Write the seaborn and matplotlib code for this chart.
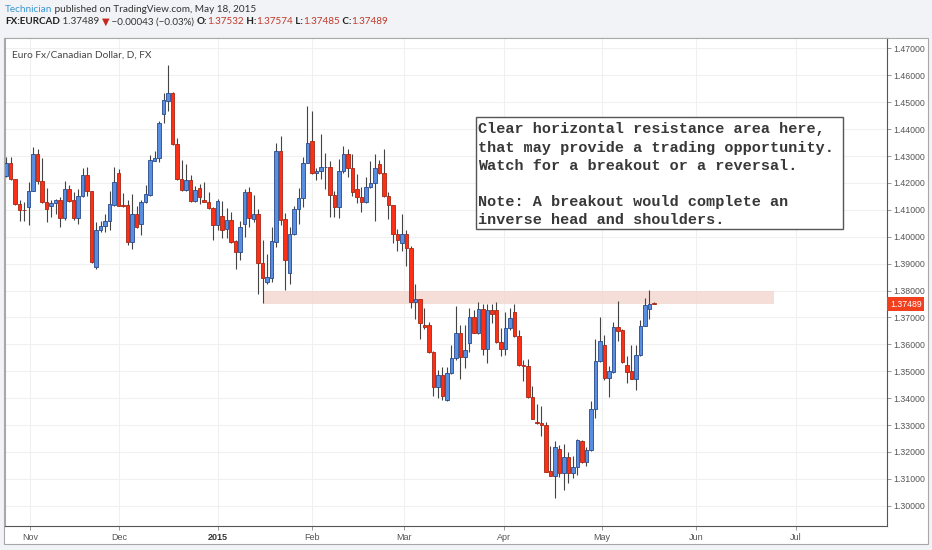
import matplotlib
matplotlib.use('Agg')
import matplotlib.pyplot as plt
import matplotlib.transforms as mtransforms
from matplotlib.patches import Rectangle
import seaborn as sns
import numpy as np

# daily EUR/CAD bars, late Oct 2014 -> May 18 2015
opens = [
    1.4227, 1.4276, 1.4215, 1.4122, 1.4100, 1.4110, 1.4172, 1.4307, 1.4208, 1.4131,
    1.4116, 1.4125, 1.4135, 1.4071, 1.4178, 1.4135, 1.4071, 1.4151, 1.4229, 1.4172,
    1.3886, 1.4026, 1.4039, 1.4058, 1.4120, 1.4239, 1.4120, 1.4120, 1.3981, 1.4085,
    1.4048, 1.4128, 1.4155, 1.4282, 1.4292, 1.4455, 1.4504, 1.4535, 1.4344, 1.4215,
    1.4174, 1.4211, 1.4134, 1.4181, 1.4138, 1.4131, 1.4107, 1.4045, 1.4079, 1.4030,
    1.4063, 1.3983, 1.3943, 1.4048, 1.4165, 1.4067, 1.4083, 1.3904, 1.3833, 1.3845,
    1.3980, 1.4319, 1.4067, 1.3866, 1.4011, 1.4104, 1.4144, 1.4276, 1.4356, 1.4239,
    1.4243, 1.4258, 1.4260, 1.4156, 1.4112, 1.4243, 1.4309, 1.4255, 1.4177, 1.4149,
    1.4128, 1.4186, 1.4200, 1.4270, 1.4239, 1.4153, 1.4120, 1.4009, 1.3977, 1.4011,
    1.3959, 1.3759, 1.3767, 1.3672, 1.3672, 1.3570, 1.3442, 1.3488, 1.3393, 1.3494,
    1.3549, 1.3641, 1.3553, 1.3605, 1.3701, 1.3644, 1.3730, 1.3582, 1.3728, 1.3728,
    1.3609, 1.3583, 1.3660, 1.3719, 1.3630, 1.3522, 1.3521, 1.3405, 1.3312, 1.3309,
    1.3299, 1.3131, 1.3112, 1.3211, 1.3122, 1.3182, 1.3122, 1.3143, 1.3241, 1.3161,
    1.3208, 1.3359, 1.3537, 1.3599, 1.3476, 1.3497, 1.3664, 1.3652, 1.3525, 1.3500,
    1.3472, 1.3562, 1.3667, 1.3731, 1.37532,
]
highs = [
    1.4295, 1.4298, 1.4215, 1.4137, 1.4128, 1.4202, 1.4334, 1.4328, 1.4292, 1.4181,
    1.4137, 1.4141, 1.4147, 1.4208, 1.4194, 1.4165, 1.4178, 1.4254, 1.4258, 1.4172,
    1.4054, 1.4058, 1.4083, 1.4169, 1.4261, 1.4252, 1.4164, 1.4135, 1.4159, 1.4114,
    1.4135, 1.4194, 1.4303, 1.4319, 1.4430, 1.4535, 1.4640, 1.4540, 1.4369, 1.4285,
    1.4272, 1.4231, 1.4190, 1.4196, 1.4202, 1.4165, 1.4112, 1.4141, 1.4132, 1.4107,
    1.4091, 1.3987, 1.4057, 1.4178, 1.4184, 1.4155, 1.4104, 1.3987, 1.3937, 1.4036,
    1.4350, 1.4375, 1.4088, 1.4036, 1.4116, 1.4181, 1.4295, 1.4486, 1.4467, 1.4255,
    1.4381, 1.4313, 1.4282, 1.4171, 1.4288, 1.4338, 1.4325, 1.4309, 1.4233, 1.4186,
    1.4221, 1.4282, 1.4307, 1.4285, 1.4325, 1.4165, 1.4120, 1.4030, 1.4085, 1.4026,
    1.3964, 1.3824, 1.3767, 1.3734, 1.3685, 1.3577, 1.3506, 1.3516, 1.3516, 1.3598,
    1.3743, 1.3672, 1.3672, 1.3734, 1.3728, 1.3759, 1.3752, 1.3752, 1.3750, 1.3759,
    1.3660, 1.3722, 1.3734, 1.3750, 1.3654, 1.3543, 1.3546, 1.3445, 1.3377, 1.3371,
    1.3312, 1.3223, 1.3241, 1.3225, 1.3229, 1.3201, 1.3186, 1.3248, 1.3244, 1.3217,
    1.3389, 1.3620, 1.3701, 1.3636, 1.3521, 1.3685, 1.3763, 1.3657, 1.3558, 1.3599,
    1.3599, 1.3691, 1.3771, 1.3802, 1.37574,
]
lows = [
    1.4221, 1.4211, 1.4120, 1.4058, 1.4058, 1.4045, 1.4169, 1.4196, 1.4125, 1.4054,
    1.4073, 1.4085, 1.4036, 1.4063, 1.4128, 1.4063, 1.4046, 1.4147, 1.4153, 1.3903,
    1.3882, 1.4018, 1.4018, 1.4024, 1.4116, 1.4114, 1.4112, 1.3971, 1.3956, 1.4032,
    1.4008, 1.4126, 1.4153, 1.4282, 1.4279, 1.4422, 1.4467, 1.4340, 1.4211, 1.4171,
    1.4171, 1.4128, 1.4128, 1.4122, 1.4128, 1.4104, 1.3989, 1.4026, 1.3996, 1.3996,
    1.3978, 1.3882, 1.3913, 1.4001, 1.4036, 1.4054, 1.3787, 1.3755, 1.3826, 1.3833,
    1.3962, 1.4042, 1.3802, 1.3826, 1.4008, 1.4048, 1.4110, 1.4276, 1.4235, 1.4211,
    1.4215, 1.4178, 1.4073, 1.4075, 1.4070, 1.4239, 1.4221, 1.4153, 1.4124, 1.4091,
    1.4124, 1.4181, 1.4058, 1.4235, 1.4149, 1.4067, 1.3977, 1.3949, 1.3949, 1.3890,
    1.3734, 1.3693, 1.3619, 1.3656, 1.3568, 1.3407, 1.3401, 1.3393, 1.3389, 1.3491,
    1.3543, 1.3471, 1.3512, 1.3570, 1.3641, 1.3639, 1.3561, 1.3531, 1.3679, 1.3605,
    1.3558, 1.3562, 1.3654, 1.3627, 1.3519, 1.3463, 1.3402, 1.3322, 1.3303, 1.3258,
    1.3124, 1.3110, 1.3028, 1.3106, 1.3060, 1.3085, 1.3102, 1.3115, 1.3159, 1.3149,
    1.3204, 1.3328, 1.3533, 1.3467, 1.3405, 1.3494, 1.3611, 1.3531, 1.3457, 1.3472,
    1.3432, 1.3556, 1.3667, 1.3694, 1.37485,
]
closes = [
    1.4276, 1.4215, 1.4122, 1.4100, 1.4098, 1.4172, 1.4307, 1.4208, 1.4128, 1.4104,
    1.4126, 1.4135, 1.4071, 1.4178, 1.4132, 1.4071, 1.4151, 1.4229, 1.4172, 1.3907,
    1.4026, 1.4039, 1.4058, 1.4122, 1.4202, 1.4116, 1.4116, 1.3981, 1.4085, 1.4036,
    1.4131, 1.4159, 1.4286, 1.4292, 1.4422, 1.4507, 1.4535, 1.4344, 1.4215, 1.4175,
    1.4211, 1.4132, 1.4174, 1.4149, 1.4131, 1.4106, 1.4042, 1.4134, 1.4026, 1.4063,
    1.3980, 1.3943, 1.4038, 1.4165, 1.4069, 1.4083, 1.3903, 1.3845, 1.3849, 1.3983,
    1.4319, 1.4063, 1.3915, 1.4011, 1.4104, 1.4144, 1.4276, 1.4350, 1.4239, 1.4245,
    1.4260, 1.4260, 1.4157, 1.4112, 1.4243, 1.4309, 1.4255, 1.4165, 1.4149, 1.4128,
    1.4186, 1.4200, 1.4255, 1.4239, 1.4153, 1.4120, 1.4009, 1.3989, 1.4011, 1.3959,
    1.3759, 1.3767, 1.3678, 1.3664, 1.3570, 1.3442, 1.3488, 1.3407, 1.3494, 1.3549,
    1.3641, 1.3552, 1.3580, 1.3701, 1.3644, 1.3730, 1.3582, 1.3728, 1.3713, 1.3609,
    1.3583, 1.3660, 1.3697, 1.3630, 1.3522, 1.3519, 1.3405, 1.3324, 1.3307, 1.3299,
    1.3127, 1.3112, 1.3217, 1.3122, 1.3182, 1.3122, 1.3143, 1.3244, 1.3161, 1.3208,
    1.3359, 1.3537, 1.3614, 1.3476, 1.3500, 1.3664, 1.3651, 1.3533, 1.3497, 1.3472,
    1.3562, 1.3667, 1.3747, 1.3750, 1.37489,
]

month_labels = ['Nov', 'Dec', '2015', 'Feb', 'Mar', 'Apr', 'May', 'Jun', 'Jul']
month_bars = [5.3, 25.1, 47.0, 68.0, 88.4, 110.7, 132.4, 153.3, 175.6]
price_ticks = [1.30, 1.31, 1.32, 1.33, 1.34, 1.35, 1.36, 1.37, 1.38,
               1.39, 1.40, 1.41, 1.42, 1.43, 1.44, 1.45, 1.46, 1.47]

resist_lo, resist_hi = 1.3752, 1.3800
resist_from, resist_to = 57, 170.7
last_price = 1.37489

note = ("Clear horizontal resistance area here,\n"
        "that may provide a trading opportunity.\n"
        "Watch for a breakout or a reversal.\n"
        "\n"
        "Note: A breakout would complete an\n"
        "inverse head and shoulders.")

sns.set_theme(style='white')
plt.rcParams['font.family'] = ['Lato', 'DejaVu Sans']

W, H = 932, 550
fig = plt.figure(figsize=(W / 100, H / 100), dpi=100, facecolor='#f1f3f6')

# white chart panel (behind the axes)
fig.patches.append(Rectangle((4 / W, 6 / H), 924 / W, 506 / H, transform=fig.transFigure,
                             facecolor='white', edgecolor='#a8a8a8', lw=0.8, zorder=-5))

ax = fig.add_axes([4.7 / W, 24.3 / H, 882.3 / W, 487.7 / H])
ax.set_zorder(2)
ax.set_facecolor('white')

# candles
o = np.array(opens); hi = np.array(highs); lo = np.array(lows); c = np.array(closes)
x = np.arange(len(o))
up = c >= o
body_col = np.where(up, '#5a8ee0', '#fb3016')
edge_col = np.where(up, '#27498a', '#a52612')
ax.vlines(x, lo, hi, color='#444444', lw=0.8, zorder=2)
ax.bar(x, np.maximum(np.abs(c - o), 0.00012), bottom=np.minimum(o, c), width=0.7,
       color=body_col, edgecolor=edge_col, linewidth=0.6, zorder=3)

# resistance band
ax.fill_between([resist_from, resist_to], resist_lo, resist_hi, color='#f4d3cc',
                alpha=0.75, lw=0, zorder=1)

ax.set_xlim(-0.3, 195.8)
ax.set_ylim(1.2926, 1.4739)

ax.yaxis.tick_right()
ax.set_yticks(price_ticks)
ax.set_yticklabels([f'{v:.5f}' for v in price_ticks])
ax.set_xticks(month_bars)
ax.set_xticklabels(month_labels)
ax.tick_params(axis='y', which='both', right=True, left=False, length=3, width=0.6,
               color='#888888', labelsize=6.3, labelcolor='#555555', pad=1.5)
ax.tick_params(axis='x', which='both', bottom=True, length=3, width=0.6,
               color='#888888', labelsize=6.5, labelcolor='#555555', pad=2)
for lbl in ax.get_yticklabels() + ax.get_xticklabels():
    lbl.set_family('Liberation Sans')
for lbl in ax.get_xticklabels():
    if lbl.get_text() == '2015':
        lbl.set_fontweight('bold')
        lbl.set_color('#333333')

ax.grid(True, color='#f0f0f0', lw=0.8)
ax.set_axisbelow(True)
for side, col in [('left', '#a8a8a8'), ('top', '#a8a8a8'), ('bottom', '#555555'), ('right', '#555555')]:
    ax.spines[side].set_color(col)
    ax.spines[side].set_linewidth(0.8)

# last price tag on the scale
trans = mtransforms.blended_transform_factory(ax.transAxes, ax.transData)
ax.text(1.0035, last_price, f'{last_price:.5f}', transform=trans, ha='left', va='center',
        color='white', fontsize=6.3, family='Liberation Sans', clip_on=False, zorder=6,
        bbox=dict(boxstyle='square,pad=0.3', facecolor='#f2401f', edgecolor='none'))

ax.text(0.0083, 0.965, 'Euro Fx/Canadian Dollar, D, FX', transform=ax.transAxes,
        fontsize=7.3, color='#444444', va='center', ha='left')

# annotation box
ax.add_patch(Rectangle((0.534, 0.6084), 0.416, 0.2302, transform=ax.transAxes,
                       facecolor='white', edgecolor='#555555', lw=1.0, zorder=6))
ax.text(0.5364, 0.827, note, transform=ax.transAxes, ha='left', va='top',
        family='Liberation Mono', fontweight='bold', fontsize=10.9, color='#383838',
        linespacing=1.38, zorder=7)

# header rows
fig.canvas.draw()
renderer = fig.canvas.get_renderer()


def put_row(pieces, x0, y, size):
    xpos = x0
    for txt, color, weight in pieces:
        t = fig.text(xpos, y, txt, color=color, fontsize=size, fontweight=weight,
                     va='center', ha='left')
        xpos += t.get_window_extent(renderer=renderer).width / fig.bbox.width


put_row([('Technician', '#3c96cf', 'normal'),
         (' published on TradingView.com, May 18, 2015', '#333333', 'normal')],
        5 / W, 1 - 9 / H, 7.2)
put_row([('FX:EURCAD', '#222222', 'bold'),
         (' 1.37489 ', '#333333', 'normal'),
         ('\u25bc', '#c8281c', 'normal'),
         (' \u22120.00043 (\u22120.03%) ', '#333333', 'normal'),
         ('O:', '#222222', 'bold'), ('1.37532', '#c0392b', 'normal'),
         (' H:', '#222222', 'bold'), ('1.37574', '#c0392b', 'normal'),
         (' L:', '#222222', 'bold'), ('1.37485', '#c0392b', 'normal'),
         (' C:', '#222222', 'bold'), ('1.37489', '#c0392b', 'normal')],
        5 / W, 1 - 22 / H, 7.1)

fig.savefig('out.png', dpi=100, facecolor=fig.get_facecolor())
